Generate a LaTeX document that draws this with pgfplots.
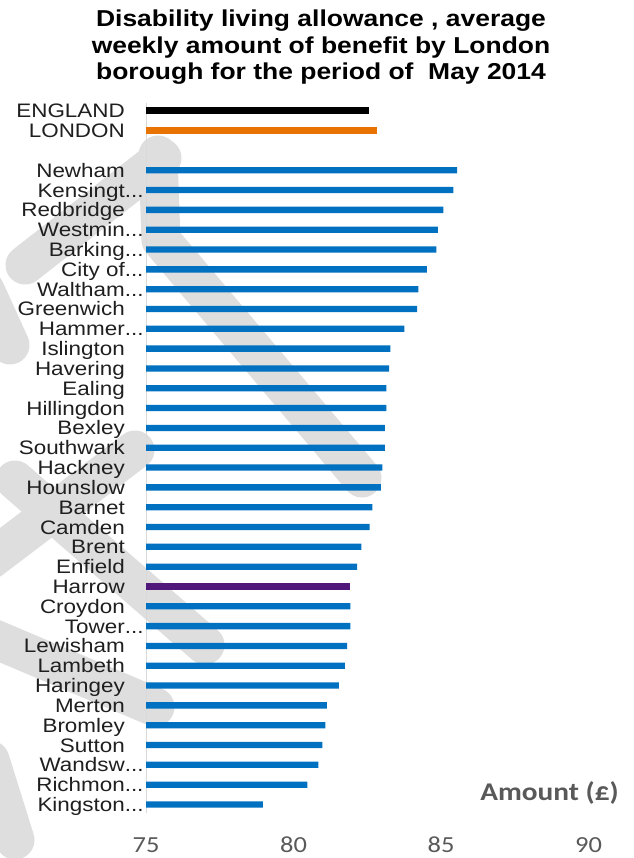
\documentclass[border=0pt]{standalone}
\usepackage{pgfplots}
\pgfplotsset{compat=1.18}
\usepackage{fontspec}
\setmainfont{Liberation Sans}
\newfontfamily\labfont{Liberation Sans}[FakeStretch=1.15]
\newfontfamily\tickfont{Carlito}[FakeStretch=1.15]
\newfontfamily\titlefont{Liberation Sans}[FakeStretch=1.15]
\definecolor{barblue}{RGB}{0,112,192}
\definecolor{barorange}{RGB}{233,115,0}
\definecolor{barpurple}{RGB}{80,24,122}
\definecolor{tickgray}{RGB}{89,89,89}
\definecolor{wm}{RGB}{222,222,222}
\definecolor{axgray}{RGB}{217,217,217}
\newcommand{\tr}{\rlap{...}}
\begin{document}
\begin{tikzpicture}
\begin{scope}[x=1pt,y=-1pt]
\path[use as bounding box] (0,0) rectangle (633,858);
% watermark bands
\begin{scope}[draw=wm, line width=39pt, line cap=round, line join=round]
\draw (162,158) -- (25,265);
\draw (158,155) -- (161,240) -- (362,478);
\draw (-15,290) -- (10,345);
\draw (135,450) -- (-10,560);
\draw (15,480) -- (205,645);
\draw (-15,635) -- (155,707);
\draw (-10,760) -- (15,840);
\end{scope}
% title
\begin{scope}[font=\titlefont\bfseries\fontsize{23}{26.5}\selectfont]
\node[anchor=base] at (321,27) {Disability living allowance , average};
\node[anchor=base] at (321,53.5) {weekly amount of benefit by London};
\node[anchor=base] at (321,80) {borough for the period of\ \ May 2014};
\end{scope}
\node[anchor=base east, inner sep=0pt, text=tickgray, font=\tickfont\bfseries\fontsize{25.5}{25.5}\selectfont] at (619,800) {Amount (£)};
\end{scope}
\begin{axis}[
  at={(146pt,-99.9pt)}, anchor=north west,
  scale only axis, width=442.5pt, height=713.5pt,
  xmin=75, xmax=90, ymin=-35.45, ymax=0.55,
  xbar, bar width=6.3pt, bar shift=0pt,
  axis line style={draw=none}, major tick length=0pt, tick style={draw=none},
  xtick={75,80,85,90}, xticklabels={75,80,85,90},
  xticklabel style={font=\tickfont\fontsize{23}{23}\selectfont, text=tickgray, anchor=base, inner sep=0pt, yshift=-39.5pt},
  ytick={0,-1,-3,-4,-5,-6,-7,-8,-9,-10,-11,-12,-13,-14,-15,-16,-17,-18,-19,-20,-21,-22,-23,-24,-25,-26,-27,-28,-29,-30,-31,-32,-33,-34,-35},
  yticklabels={ENGLAND,LONDON,Newham,Kensingt\tr,Redbridge,Westmin\tr,Barking\tr,City of\tr,Waltham\tr,Greenwich,Hammer\tr,Islington,Havering,Ealing,Hillingdon,Bexley,Southwark,Hackney,Hounslow,Barnet,Camden,Brent,Enfield,Harrow,Croydon,Tower\tr,Lewisham,Lambeth,Haringey,Merton,Bromley,Sutton,Wandsw\tr,Richmon\tr,Kingston\tr},
  yticklabel style={font=\labfont\fontsize{19.5}{19.5}\selectfont, text=black!88, anchor=base east, inner sep=0pt, xshift=-21pt, yshift=-7pt},
]
\draw[axgray, line width=1pt] (axis cs:75,0.4) -- (axis cs:75,-35.45);
\addplot[fill=black, draw=none, bar width=7pt] coordinates {(82.57,0)};
\addplot[fill=barorange, draw=none] coordinates {(82.82,-1)};
\addplot[fill=barblue, draw=none] coordinates {
(85.55,-3) (85.42,-4) (85.08,-5) (84.89,-6) (84.84,-7) (84.52,-8) (84.23,-9) (84.19,-10)
(83.76,-11) (83.28,-12) (83.24,-13) (83.15,-14) (83.15,-15) (83.10,-16) (83.10,-17)
(83.01,-18) (82.96,-19) (82.67,-20) (82.58,-21) (82.30,-22) (82.16,-23)
(81.93,-25) (81.93,-26) (81.82,-27) (81.74,-28) (81.54,-29) (81.13,-30) (81.08,-31)
(80.98,-32) (80.84,-33) (80.47,-34) (78.96,-35)};
\addplot[fill=barpurple, draw=none] coordinates {(81.93,-24)};
\end{axis}
\end{tikzpicture}
\end{document}
